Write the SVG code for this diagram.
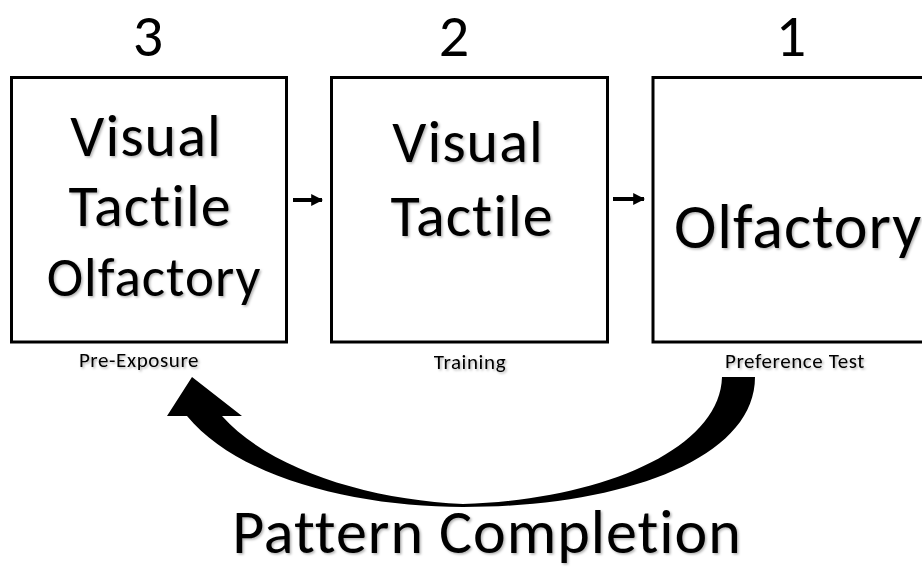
<svg xmlns="http://www.w3.org/2000/svg" width="922" height="569" viewBox="0 0 922 569">
  <defs>
    <filter id="sh" x="-10%" y="-10%" width="130%" height="140%">
      <feDropShadow dx="1.5" dy="1.5" stdDeviation="1" flood-color="#000" flood-opacity="0.3"/>
    </filter>
    <marker id="ah" viewBox="0 0 10 10" refX="9" refY="5" markerWidth="3" markerHeight="3.3" orient="auto" markerUnits="strokeWidth">
      <path d="M0,0 L10,5 L0,10 Z" fill="#000"/>
    </marker>
  </defs>
  <style>
    text { font-family: Carlito, Lato, "Open Sans", sans-serif; fill: #000; text-anchor: middle; font-variant-ligatures: none; font-feature-settings: "liga" 0, "clig" 0; }
    .big { font-size: 60px; letter-spacing: 1px; filter: url(#sh); }
    .num { font-size: 60px; }
    .lbl { font-size: 21px; letter-spacing: 0.6px; filter: url(#sh); }
    .box { fill: #fff; stroke: #000; stroke-width: 3; }
  </style>
  <rect width="922" height="569" fill="#fff"/>
  <g id="node-preexposure">
    <text class="num" x="148" y="56">3</text>
    <rect class="box" x="11.5" y="77.5" width="275" height="264.5"/>
    <text class="big" x="146" y="156">Visual</text>
    <text class="big" x="150" y="226">Tactile</text>
    <text class="big" x="154" y="296" style="font-size:55px">Olfactory</text>
    <text class="lbl" x="139" y="367">Pre-Exposure</text>
  </g>
  <g id="node-training">
    <text class="num" x="454" y="56">2</text>
    <rect class="box" x="331.5" y="77.5" width="276" height="264.5"/>
    <text class="big" x="468" y="162">Visual</text>
    <text class="big" x="472" y="236">Tactile</text>
    <text class="lbl" x="470" y="369">Training</text>
  </g>
  <g id="node-preference">
    <text class="num" x="791" y="56">1</text>
    <rect class="box" x="653" y="77.5" width="282" height="264.5"/>
    <text class="big" x="798" y="248" style="font-size:64px">Olfactory</text>
    <text class="lbl" x="795" y="368">Preference Test</text>
  </g>
  <g id="connectors">
    <line x1="293" y1="200" x2="322" y2="200" stroke="#000" stroke-width="4" marker-end="url(#ah)"/>
    <line x1="613" y1="199" x2="644" y2="199" stroke="#000" stroke-width="4" marker-end="url(#ah)"/>
    <path d="M167,416 L192,377 L242,416 L222,416 C270,470 370,500 463,504 C600,500 720,450 722,377 L755,377 C755,460 620,507 463,507 C360,507 240,480 187,416 Z" fill="#000"/>
  </g>
  <text class="big" x="487" y="553" style="font-size:62px">Pattern Completion</text>
</svg>
